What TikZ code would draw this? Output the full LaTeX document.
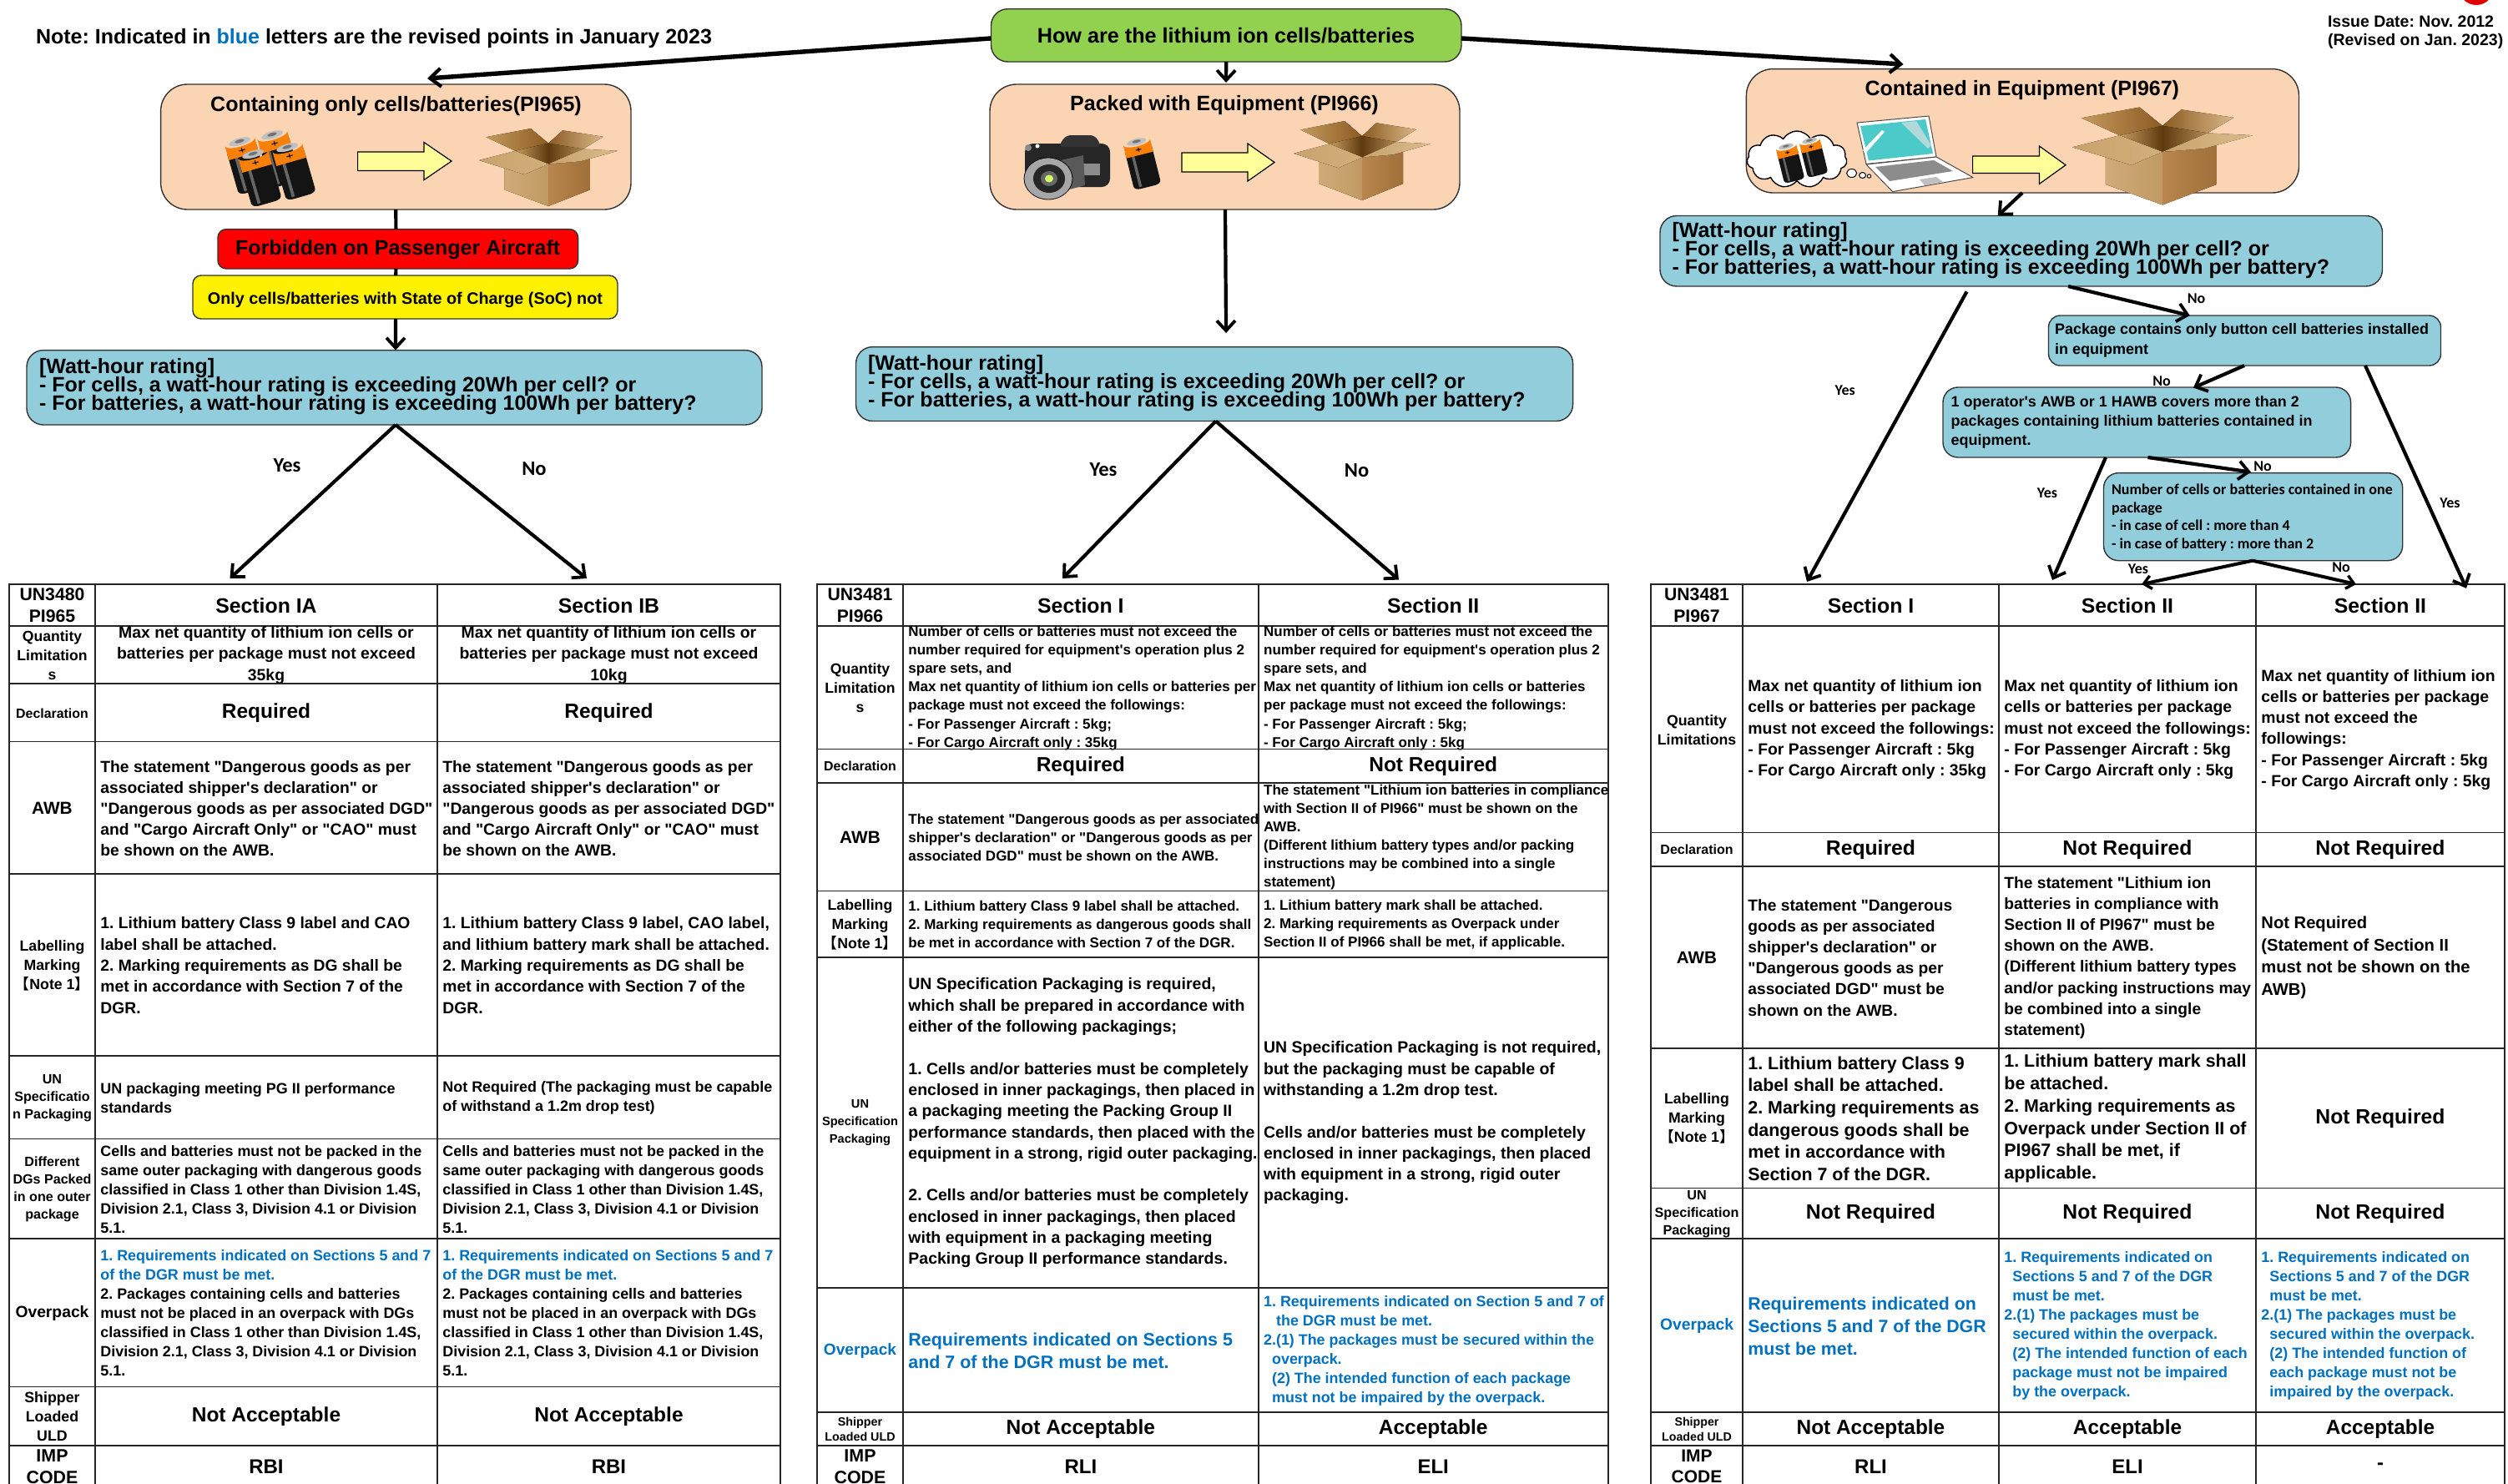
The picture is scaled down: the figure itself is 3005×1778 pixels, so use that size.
\documentclass[tikz,border=0pt]{standalone}
\usepackage{fontspec}
\setmainfont{Liberation Sans}
\newfontfamily\lib{Liberation Sans}
\newfontfamily\calib{Carlito}
\newfontfamily\cjk{Noto Sans CJK JP}[BoldFont={Noto Sans CJK JP Bold}]
\usetikzlibrary{arrows.meta,shapes.symbols,shapes.geometric}
\definecolor{peach}{HTML}{FBD4B4}
\definecolor{skyb}{HTML}{92CDDC}
\definecolor{leaf}{HTML}{92D050}
\definecolor{rev}{HTML}{0070C0}
\definecolor{ybox}{HTML}{FFFF99}
\definecolor{cbA}{HTML}{C49A5E}
\definecolor{cbB}{HTML}{8B5A22}
\definecolor{cbC}{HTML}{D8B888}
\definecolor{cbD}{HTML}{5E3A0E}
\definecolor{cbE}{HTML}{B08A55}
\definecolor{cbF}{HTML}{D0AB78}
\definecolor{cbG}{HTML}{C09A62}
\definecolor{cbH}{HTML}{B8864E}
\definecolor{cbI}{HTML}{A0703A}
\definecolor{cbJ}{HTML}{C8A26C}
\definecolor{cbK}{HTML}{D2B07B}
\definecolor{cbL}{HTML}{D8BC8C}
\frenchspacing
\newcommand\fz[2]{\lib\fontsize{\fpeval{#1/2}pt}{\fpeval{#2/2}pt}\selectfont\bfseries\lineskiplimit=-100pt\relax}
\newcommand\fc[2]{\calib\fontsize{\fpeval{#1/2}pt}{\fpeval{#2/2}pt}\selectfont\bfseries\lineskiplimit=-100pt\relax}
\newcommand\LB{{\cjk\bfseries 【}}
\newcommand\RB{{\cjk\bfseries 】}}
\tikzset{
  fs/.style 2 args={font=\fz{#1}{#2}},
  cs/.style 2 args={font=\fc{#1}{#2}},
  tnode/.style={inner sep=0pt,outer sep=0pt},
  ltext/.style={tnode,align=left,anchor=west},
  ctext/.style={tnode,align=center,anchor=center},
  cellbox/.style={draw=black!85,line width=0.9pt,inner sep=0pt,outer sep=0pt,anchor=north west},
  rbox/.style={draw=black!80,line width=0.7pt,rounded corners=#1,inner sep=0pt,outer sep=0pt,anchor=north west},
  arrM/.style={line width=2.1pt,-{Straight Barb[length=6pt,width=11pt,line width=1.9pt]}},
  arrT/.style={line width=2.7pt,-{Straight Barb[length=6.5pt,width=11pt,line width=2.1pt]}},
  arrS/.style={line width=2pt,-{Straight Barb[length=4.5pt,width=8pt,line width=1.7pt]}},
  plain/.style={line width=2.1pt},
  revt/.style={text=rev},
}
\newcounter{cc}
\newcommand\boxat[7]{% name, radius, fill, x0,x1,y0,y1
  \node[rbox=#2,fill=#3,minimum width={(#5-#4)*0.5pt},minimum height={(#7-#6)*0.5pt}] (#1) at (#4,#6) {};}
% cells: [opts for box]{x0}{x1}{y0}{y1}{text opts}{text}
\newcommand\cellL[7][]{\stepcounter{cc}%
  \node[cellbox,minimum width={(#3-#2)*0.5pt},minimum height={(#5-#4)*0.5pt},#1] (c\arabic{cc}) at (#2,#4) {};
  \node[ltext,#6] (c\arabic{cc}t) at ([xshift=3.2pt,yshift=-.3pt]c\arabic{cc}.west) {#7};}
\newcommand\cellC[7][]{\stepcounter{cc}%
  \node[cellbox,minimum width={(#3-#2)*0.5pt},minimum height={(#5-#4)*0.5pt},#1] (c\arabic{cc}) at (#2,#4) {};
  \node[ctext,#6] (c\arabic{cc}t) at ([yshift=-.3pt]c\arabic{cc}.center) {#7};}
% cardboard box: x0 y0 w h
\newcommand\cardbox[4]{\begin{scope}[shift={(#1,#2)},xscale=#3,yscale=#4,line join=round]
  \fill[left color=cbA,right color=cbB] (.05,.11)--(.373,0)--(.5,.19)--(.5,.457)--(.262,.288)--cycle;
  \fill[left color=cbB,right color=cbC] (.5,.19)--(.604,.024)--(.896,.106)--(.75,.264)--(.5,.457)--cycle;
  \fill[left color=cbA,right color=cbD] (.262,.288)--(.5,.19)--(.5,.457)--cycle;
  \fill[left color=cbD,right color=cbE] (.5,.19)--(.75,.264)--(.5,.457)--cycle;
  \fill[left color=cbF,right color=cbG] (.185,.5)--(.5,.457)--(.5,1)--(.185,.79)--cycle;
  \fill[left color=cbH,right color=cbI] (.5,.457)--(.8,.37)--(.8,.79)--(.5,1)--cycle;
  \fill[left color=cbJ,right color=cbK] (0,.409)--(.262,.288)--(.5,.457)--(.327,.591)--cycle;
  \fill[left color=cbJ,right color=cbL] (.5,.457)--(.75,.264)--(1,.288)--(.73,.423)--cycle;
\end{scope}}
% battery: cx cy rot width length
\newcommand\batt[5]{\begin{scope}[shift={(#1,#2)},rotate=#3,xscale=#4,yscale=#5]
  \fill[black!92,rounded corners=1.2pt] (-.5,-.32)--(-.5,.46)--(-.35,.5)--(.35,.5)--(.5,.46)--(.5,-.32)--cycle;
  \fill[black!60] (-.3,-.3) rectangle (-.2,.46);
  \fill[orange!90!brown] (-.5,-.16)--(-.5,-.42) arc[x radius=.5,y radius=.08,start angle=180,end angle=0]--(.5,-.16)--cycle;
  \fill[black!25] (0,-.43) ellipse[x radius=.36,y radius=.065];
  \fill[black!55] (0,-.44) ellipse[x radius=.16,y radius=.03];
  \draw[black,line width=.5pt] (-.1,-.27)--(.1,-.27) (0,-.31)--(0,-.23);
\end{scope}}
\newcommand\yarrow[7]{\draw[fill=ybox,draw=black,line width=.6pt] (#1,#4)--(#2,#4)--(#2,#6)--(#3,{(#6+#7)/2})--(#2,#7)--(#2,#5)--(#1,#5)--cycle;}
\begin{document}
\begin{tikzpicture}[x=0.5pt,y=-0.5pt]
\path[use as bounding box,clip] (0,0) rectangle (3005,1778);
\fill[white] (0,0) rectangle (3005,1778);
% seal
\fill[red!88!black] (2967,-15) circle[radius=21];
% note and issue
\node[ltext,fs={25}{30}] (note) at (43,46) {Note: Indicated in \textcolor{rev}{blue} letters are the revised points in January 2023};
\node[ltext,fs={19.5}{22}] (issue) at (2789,39) {Issue Date: Nov. 2012\\(Revised on Jan. 2023)};
% green
\boxat{g}{10pt}{leaf}{1187.5}{1751}{10.7}{74}
\node[ctext,fs={25.2}{30}] (gt) at (1469,43) {How are the lithium ion cells/batteries};
% peach boxes
\boxat{b1}{16pt}{peach}{192.6}{756}{101}{251}
\node[ctext,fs={25}{30}] (b1t) at (474.5,127) {Containing only cells/batteries(PI965)};
\boxat{b2}{16pt}{peach}{1186}{1749}{101}{251}
\node[ctext,fs={25}{30}] (b2t) at (1467,126.5) {Packed with Equipment (PI966)};
\boxat{b3}{16pt}{peach}{2092.4}{2754.5}{82.6}{231}
\node[ctext,fs={25}{30}] (b3t) at (2422.8,108.5) {Contained in Equipment (PI967)};
% pictures in box 1
\batt{295}{197}{16}{37}{66}
\batt{334}{189}{16}{37}{66}
\batt{352}{204}{16}{37}{66}
\batt{311}{212}{16}{37}{66}
\yarrow{428.6}{508}{541}{182}{204.5}{170.5}{215.6}
\cardbox{574}{154}{166}{93}
% pictures in box 2
\begin{scope}
 \fill[black!85,rounded corners=5pt] (1228,172) rectangle (1330,224);
 \fill[black!80,rounded corners=3pt] (1277,162)--(1312,162)--(1320,176)--(1268,176)--cycle;
 \fill[black!45] (1232,177) circle[radius=4];
 \fill[white] (1243,175) circle[radius=2.5];
 \fill[black!45] (1288,196) rectangle (1318,210);
 \fill[black!65] (1262,194)--(1298,186)--(1300,222)--(1270,230)--cycle;
 \fill[black!35,draw=black,line width=.4pt] (1256,214) ellipse[x radius=29,y radius=25];
 \fill[black!85] (1257,214) ellipse[x radius=19,y radius=17];
 \fill[black!60] (1257,214) ellipse[x radius=10,y radius=9];
 \fill[green!30!yellow!60!white] (1257,214) ellipse[x radius=5,y radius=4.5];
\end{scope}
\batt{1368}{195}{14}{33}{60}
\yarrow{1416}{1495}{1527}{183}{206}{172}{217}
\cardbox{1550}{145}{164}{95}
% pictures in box 3
\node[cloud,draw=black,fill=white,line width=.7pt,cloud puffs=11,cloud puff arc=120,aspect=1.7,minimum width=60pt,minimum height=34pt,inner sep=0pt] (cld) at (2153,191) {};
\batt{2144.7}{194.7}{14}{25}{46}
\batt{2172.8}{187.8}{14}{25}{46}
\draw[fill=white,line width=.5pt] (2218.6,207.5) ellipse[x radius=6,y radius=5] (2231.6,210) ellipse[x radius=4,y radius=3.5] (2239.5,211) circle[radius=2.2];
\begin{scope}[line join=round]
 \draw[fill=white,draw=black!70,line width=.5pt] (2225,147)--(2311,139)--(2320,188)--(2236,196.5)--cycle;
 \fill[teal!60!cyan!70!white] (2229,151)--(2307,143)--(2316,184)--(2239,192.5)--cycle;
 \fill[white!70!teal] (2278,147)--(2296,145)--(2314,174)--(2310,178)--cycle;
 \fill[white] (2232,180)--(2255,156)--(2258,158)--(2235,184)--cycle;
 \draw[fill=white,draw=black!70,line width=.5pt] (2236,197)--(2320,188)--(2364,212.6)--(2267.6,229.6)--cycle;
 \fill[black!45] (2247,200)--(2317,192)--(2340,205)--(2264,217)--cycle;
 \fill[black!25] (2300,215)--(2320,212)--(2328,218)--(2306,222)--cycle;
\end{scope}
\yarrow{2363.6}{2443.4}{2475}{187}{207.5}{175}{220.4}
\cardbox{2483}{128.5}{216}{117}
% status boxes
\boxat{f}{5pt}{red}{261}{692.6}{274.6}{322}
\node[ctext,fs={25}{30}] (ft) at (476.7,299.5) {Forbidden on Passenger Aircraft};
\boxat{y}{5pt}{yellow}{231}{740}{330}{382}
\node[ctext,fs={19.8}{24}] (yt) at (485.5,359) {Only cells/batteries with State of Charge (SoC) not};
% blue question boxes
\boxat{w1}{10pt}{skyb}{32}{913}{419.6}{509}
\node[ltext,fs={25}{22}] (w1t) at (47,463.5) {[Watt-hour rating]\\- For cells, a watt-hour rating is exceeding 20Wh per cell? or\\- For batteries, a watt-hour rating is exceeding 100Wh per battery?};
\boxat{w2}{10pt}{skyb}{1025.5}{1884.6}{415.6}{504.5}
\node[ltext,fs={25}{22}] (w2t) at (1040,459.5) {[Watt-hour rating]\\- For cells, a watt-hour rating is exceeding 20Wh per cell? or\\- For batteries, a watt-hour rating is exceeding 100Wh per battery?};
\boxat{w3}{10pt}{skyb}{1989}{2854.5}{258.5}{343}
\node[ltext,fs={25}{22}] (w3t) at (2003.5,300) {[Watt-hour rating]\\- For cells, a watt-hour rating is exceeding 20Wh per cell? or\\- For batteries, a watt-hour rating is exceeding 100Wh per battery?};
\boxat{pk}{7pt}{skyb}{2454.5}{2924.5}{378}{438}
\node[ltext,fs={18}{24}] (pkt) at (2462,407.7) {Package contains only button cell batteries installed\\in equipment};
\boxat{op}{9pt}{skyb}{2328}{2816.6}{464}{548}
\node[ltext,fs={18}{23}] (opt) at (2337.5,506) {1 operator's AWB or 1 HAWB covers more than 2\\packages containing lithium batteries contained in\\equipment.};
\boxat{nb}{9pt}{skyb}{2520.5}{2878.7}{566.6}{671.7}
\node[ltext,cs={18}{21.7}] (nbt) at (2530,620) {Number of cells or batteries contained in one\\package\\- in case of cell : more than 4\\- in case of battery : more than 2};
% TABLE 1
\def\xa{11}\def\xb{114}\def\xc{524}\def\xd{935}
\cellC{\xa}{\xb}{699.7}{749.7}{fs={21.2}{26}}{UN3480\\PI965}
\cellC[alias=s1a]{\xb}{\xc}{699.7}{749.7}{fs={24.8}{30}}{Section IA}
\cellC[alias=s1b]{\xc}{\xd}{699.7}{749.7}{fs={24.8}{30}}{Section IB}
\cellC{\xa}{\xb}{749.7}{819}{fs={17.6}{23}}{Quantity\\Limitation\\s}
\cellC{\xb}{\xc}{749.7}{819}{fs={19.4}{25.7}}{Max net quantity of lithium ion cells or\\batteries per package must not exceed\\35kg}
\cellC{\xc}{\xd}{749.7}{819}{fs={19.4}{25.7}}{Max net quantity of lithium ion cells or\\batteries per package must not exceed\\10kg}
\cellC{\xa}{\xb}{819}{888.5}{fs={15.9}{20}}{Declaration}
\cellC{\xb}{\xc}{819}{888.5}{fs={24.5}{30}}{Required}
\cellC{\xc}{\xd}{819}{888.5}{fs={24.5}{30}}{Required}
\cellC{\xa}{\xb}{888.5}{1047}{fs={20.8}{25}}{AWB}
\cellL{\xb}{\xc}{888.5}{1047}{fs={19.3}{25}}{The statement "Dangerous goods as per\\associated shipper's declaration" or\\"Dangerous goods as per associated DGD"\\and "Cargo Aircraft Only" or "CAO" must\\be shown on the AWB.}
\cellL{\xc}{\xd}{888.5}{1047}{fs={19.3}{25}}{The statement "Dangerous goods as per\\associated shipper's declaration" or\\"Dangerous goods as per associated DGD"\\and "Cargo Aircraft Only" or "CAO" must\\be shown on the AWB.}
\cellC{\xa}{\xb}{1047}{1265}{fs={17.7}{23}}{Labelling\\Marking\\\LB Note 1\RB}
\cellL{\xb}{\xc}{1047}{1265}{fs={19.3}{25.3}}{1. Lithium battery Class 9 label and CAO\\label shall be attached.\\2. Marking requirements as DG shall be\\met in accordance with Section 7 of the\\DGR.}
\cellL{\xc}{\xd}{1047}{1265}{fs={19.3}{25.3}}{1. Lithium battery Class 9 label, CAO label,\\and lithium battery mark shall be attached.\\2. Marking requirements as DG shall be\\met in accordance with Section 7 of the\\DGR.}
\cellC{\xa}{\xb}{1265}{1364.5}{fs={16.1}{21}}{UN\\Specificatio\\n Packaging}
\cellL{\xb}{\xc}{1265}{1364.5}{fs={17.95}{23}}{UN packaging meeting PG II performance\\standards}
\cellL{\xc}{\xd}{1265}{1364.5}{fs={17.95}{23}}{Not Required (The packaging must be capable\\of withstand a 1.2m drop test)}
\cellC{\xa}{\xb}{1364.5}{1484}{fs={16.1}{21}}{Different\\DGs Packed\\in one outer\\package}
\cellL{\xb}{\xc}{1364.5}{1484}{fs={17.9}{23}}{Cells and batteries must not be packed in the\\same outer packaging with dangerous goods\\classified in Class 1 other than Division 1.4S,\\Division 2.1, Class 3, Division 4.1 or Division\\5.1.}
\cellL{\xc}{\xd}{1364.5}{1484}{fs={17.9}{23}}{Cells and batteries must not be packed in the\\same outer packaging with dangerous goods\\classified in Class 1 other than Division 1.4S,\\Division 2.1, Class 3, Division 4.1 or Division\\5.1.}
\cellC{\xa}{\xb}{1484}{1661.5}{fs={19.3}{24}}{Overpack}
\cellL{\xb}{\xc}{1484}{1661.5}{fs={17.9}{23}}{\textcolor{rev}{1. Requirements indicated on Sections 5 and 7}\\\textcolor{rev}{of the DGR must be met.}\\2. Packages containing cells and batteries\\must not be placed in an overpack with DGs\\classified in Class 1 other than Division 1.4S,\\Division 2.1, Class 3, Division 4.1 or Division\\5.1.}
\cellL{\xc}{\xd}{1484}{1661.5}{fs={17.9}{23}}{\textcolor{rev}{1. Requirements indicated on Sections 5 and 7}\\\textcolor{rev}{of the DGR must be met.}\\2. Packages containing cells and batteries\\must not be placed in an overpack with DGs\\classified in Class 1 other than Division 1.4S,\\Division 2.1, Class 3, Division 4.1 or Division\\5.1.}
\cellC{\xa}{\xb}{1661.5}{1731.6}{fs={17.8}{23}}{Shipper\\Loaded\\ULD}
\cellC{\xb}{\xc}{1661.5}{1731.6}{fs={24.5}{30}}{Not Acceptable}
\cellC{\xc}{\xd}{1661.5}{1731.6}{fs={24.5}{30}}{Not Acceptable}
\cellC{\xa}{\xb}{1731.6}{1781}{fs={21.4}{25.7}}{IMP\\CODE}
\cellC{\xb}{\xc}{1731.6}{1781}{fs={24}{30}}{RBI}
\cellC{\xc}{\xd}{1731.6}{1781}{fs={24}{30}}{RBI}
% TABLE 2
\def\xa{979}\def\xb{1082}\def\xc{1507.7}\def\xd{1926.7}
\cellC{\xa}{\xb}{700}{750}{fs={21.2}{26}}{UN3481\\PI966}
\cellC[alias=s2a]{\xb}{\xc}{700}{750}{fs={24.8}{30}}{Section I}
\cellC[alias=s2b]{\xc}{\xd}{700}{750}{fs={24.8}{30}}{Section II}
\cellC{\xa}{\xb}{750}{897.5}{fs={17.6}{23}}{Quantity\\Limitation\\s}
\cellL{\xb}{\xc}{750}{897.5}{fs={17}{22.2}}{Number of cells or batteries must not exceed the\\number required for equipment's operation plus 2\\spare sets, and\\Max net quantity of lithium ion cells or batteries per\\package must not exceed the followings:\\- For Passenger Aircraft : 5kg;\\- For Cargo Aircraft only : 35kg}
\cellL{\xc}{\xd}{750}{897.5}{fs={17}{22.2}}{Number of cells or batteries must not exceed the\\number required for equipment's operation plus 2\\spare sets, and\\Max net quantity of lithium ion cells or batteries\\per package must not exceed the followings:\\- For Passenger Aircraft : 5kg;\\- For Cargo Aircraft only : 5kg}
\cellC{\xa}{\xb}{897.5}{937.7}{fs={15.9}{20}}{Declaration}
\cellC{\xb}{\xc}{897.5}{937.7}{fs={24.5}{30}}{Required}
\cellC{\xc}{\xd}{897.5}{937.7}{fs={24.5}{30}}{Not Required}
\cellC{\xa}{\xb}{937.7}{1067.5}{fs={20.8}{25}}{AWB}
\cellL{\xb}{\xc}{937.7}{1067.5}{fs={17}{22}}{The statement "Dangerous goods as per associated\\shipper's declaration" or "Dangerous goods as per\\associated DGD" must be shown on the AWB.}
\cellL{\xc}{\xd}{937.7}{1067.5}{fs={17}{22}}{The statement "Lithium ion batteries in compliance\\with Section II of PI966" must be shown on the\\AWB.\\(Different lithium battery types and/or packing\\instructions may be combined into a single\\statement)}
\cellC{\xa}{\xb}{1067.5}{1146.6}{fs={17.7}{23}}{Labelling\\Marking\\\LB Note 1\RB}
\cellL{\xb}{\xc}{1067.5}{1146.6}{fs={17}{22}}{1. Lithium battery Class 9 label shall be attached.\\2. Marking requirements as dangerous goods shall\\be met in accordance with Section 7 of the DGR.}
\cellL{\xc}{\xd}{1067.5}{1146.6}{fs={17}{22}}{1. Lithium battery mark shall be attached.\\2. Marking requirements as Overpack under\\Section II of PI966 shall be met, if applicable.}
\cellC{\xa}{\xb}{1146.6}{1542.9}{fs={14.6}{21}}{UN\\Specification\\Packaging}
\cellL{\xb}{\xc}{1146.6}{1542.9}{fs={19.5}{25.3}}{UN Specification Packaging is required,\\which shall be prepared in accordance with\\either of the following packagings;\\~\\1. Cells and/or batteries must be completely\\enclosed in inner packagings, then placed in\\a packaging meeting the Packing Group II\\performance standards, then placed with the\\equipment in a strong, rigid outer packaging.\\~\\2. Cells and/or batteries must be completely\\enclosed in inner packagings, then placed\\with equipment in a packaging meeting\\Packing Group II performance standards.}
\cellL{\xc}{\xd}{1146.6}{1542.9}{fs={19.5}{25.3}}{UN Specification Packaging is not required,\\but the packaging must be capable of\\withstanding a 1.2m drop test.\\~\\Cells and/or batteries must be completely\\enclosed in inner packagings, then placed\\with equipment in a strong, rigid outer\\packaging.}
\cellC{\xa}{\xb}{1542.9}{1692}{fs={19.1}{24},revt}{Overpack}
\cellL{\xb}{\xc}{1542.9}{1692}{fs={21.45}{27},revt}{Requirements indicated on Sections 5\\and 7 of the DGR must be met.}
\cellL{\xc}{\xd}{1542.9}{1692}{fs={17.9}{23},revt}{1. Requirements indicated on Section 5 and 7 of\\\hspace*{7.5pt}the DGR must be met.\\2.(1) The packages must be secured within the\\\hspace*{5pt}overpack.\\\hspace*{5pt}(2) The intended function of each package\\\hspace*{5pt}must not be impaired by the overpack.}
\cellC{\xa}{\xb}{1692}{1731.6}{fs={14.3}{18.5}}{Shipper\\Loaded ULD}
\cellC{\xb}{\xc}{1692}{1731.6}{fs={24.5}{30}}{Not Acceptable}
\cellC{\xc}{\xd}{1692}{1731.6}{fs={24.5}{30}}{Acceptable}
\cellC{\xa}{\xb}{1731.6}{1781}{fs={21.4}{25.7}}{IMP\\CODE}
\cellC{\xb}{\xc}{1731.6}{1781}{fs={24}{30}}{RLI}
\cellC{\xc}{\xd}{1731.6}{1781}{fs={24}{30}}{ELI}
% TABLE 3
\def\xa{1978}\def\xb{2088}\def\xc{2395}\def\xd{2703}\def\xe{3001}
\cellC{\xa}{\xb}{700}{750}{fs={21.2}{26}}{UN3481\\PI967}
\cellC[alias=s3a]{\xb}{\xc}{700}{750}{fs={24.8}{30}}{Section I}
\cellC[alias=s3b]{\xc}{\xd}{700}{750}{fs={24.8}{30}}{Section II}
\cellC[alias=s3c]{\xd}{\xe}{700}{750}{fs={24.8}{30}}{Section II}
\cellC{\xa}{\xb}{750}{997.4}{fs={17.7}{23}}{Quantity\\Limitations}
\cellL{\xb}{\xc}{750}{997.4}{fs={19.4}{25.3}}{Max net quantity of lithium ion\\cells or batteries per package\\must not exceed the followings:\\- For Passenger Aircraft : 5kg\\- For Cargo Aircraft only : 35kg}
\cellL{\xc}{\xd}{750}{997.4}{fs={19.4}{25.3}}{Max net quantity of lithium ion\\cells or batteries per package\\must not exceed the followings:\\- For Passenger Aircraft : 5kg\\- For Cargo Aircraft only : 5kg}
\cellL{\xd}{\xe}{750}{997.4}{fs={19.4}{25.3}}{Max net quantity of lithium ion\\cells or batteries per package\\must not exceed the\\followings:\\- For Passenger Aircraft : 5kg\\- For Cargo Aircraft only : 5kg}
\cellC{\xa}{\xb}{997.4}{1037.7}{fs={16}{20}}{Declaration}
\cellC{\xb}{\xc}{997.4}{1037.7}{fs={24.7}{30}}{Required}
\cellC{\xc}{\xd}{997.4}{1037.7}{fs={24.7}{30}}{Not Required}
\cellC{\xd}{\xe}{997.4}{1037.7}{fs={24.7}{30}}{Not Required}
\cellC{\xa}{\xb}{1037.7}{1255.6}{fs={20.6}{25}}{AWB}
\cellL{\xb}{\xc}{1037.7}{1255.6}{fs={19.2}{25.2}}{The statement "Dangerous\\goods as per associated\\shipper's declaration" or\\"Dangerous goods as per\\associated DGD" must be\\shown on the AWB.}
\cellL{\xc}{\xd}{1037.7}{1255.6}{fs={19.2}{25.2}}{The statement "Lithium ion\\batteries in compliance with\\Section II of PI967" must be\\shown on the AWB.\\(Different lithium battery types\\and/or packing instructions may\\be combined into a single\\statement)}
\cellL{\xd}{\xe}{1037.7}{1255.6}{fs={20.2}{26.7}}{Not Required\\(Statement of Section II\\must not be shown on the\\AWB)}
\cellC{\xa}{\xb}{1255.6}{1423.5}{fs={17.7}{23}}{Labelling\\Marking\\\LB Note 1\RB}
\cellL{\xb}{\xc}{1255.6}{1423.5}{fs={21.4}{26.7}}{1. Lithium battery Class 9\\label shall be attached.\\2. Marking requirements as\\dangerous goods shall be\\met in accordance with\\Section 7 of the DGR.}
\cellL{\xc}{\xd}{1255.6}{1423.5}{fs={21.4}{26.7}}{1. Lithium battery mark shall\\be attached.\\2. Marking requirements as\\Overpack under Section II of\\PI967 shall be met, if\\applicable.}
\cellC{\xd}{\xe}{1255.6}{1423.5}{fs={24.7}{30}}{Not Required}
\cellC{\xa}{\xb}{1423.5}{1484}{fs={16.2}{21}}{UN\\Specification\\Packaging}
\cellC{\xb}{\xc}{1423.5}{1484}{fs={24.7}{30}}{Not Required}
\cellC{\xc}{\xd}{1423.5}{1484}{fs={24.7}{30}}{Not Required}
\cellC{\xd}{\xe}{1423.5}{1484}{fs={24.7}{30}}{Not Required}
\cellC{\xa}{\xb}{1484}{1692}{fs={19.3}{24},revt}{Overpack}
\cellL{\xb}{\xc}{1484}{1692}{fs={21.3}{27},revt}{Requirements indicated on\\Sections 5 and 7 of the DGR\\must be met.}
\cellL{\xc}{\xd}{1484}{1692}{fs={17.9}{23},revt}{1. Requirements indicated on\\\hspace*{5pt}Sections 5 and 7 of the DGR\\\hspace*{5pt}must be met.\\2.(1) The packages must be\\\hspace*{5pt}secured within the overpack.\\\hspace*{5pt}(2) The intended function of each\\\hspace*{5pt}package must not be impaired\\\hspace*{5pt}by the overpack.}
\cellL{\xd}{\xe}{1484}{1692}{fs={17.9}{23},revt}{1. Requirements indicated on\\\hspace*{5pt}Sections 5 and 7 of the DGR\\\hspace*{5pt}must be met.\\2.(1) The packages must be\\\hspace*{5pt}secured within the overpack.\\\hspace*{5pt}(2) The intended function of\\\hspace*{5pt}each package must not be\\\hspace*{5pt}impaired by the overpack.}
\cellC{\xa}{\xb}{1692}{1731.6}{fs={14.2}{18.5}}{Shipper\\Loaded ULD}
\cellC{\xb}{\xc}{1692}{1731.6}{fs={24.4}{30}}{Not Acceptable}
\cellC{\xc}{\xd}{1692}{1731.6}{fs={24.4}{30}}{Acceptable}
\cellC{\xd}{\xe}{1692}{1731.6}{fs={24.4}{30}}{Acceptable}
\cellC{\xa}{\xb}{1731.6}{1781}{fs={21}{25.7}}{IMP\\CODE}
\cellC{\xb}{\xc}{1731.6}{1781}{fs={24}{30}}{RLI}
\cellC{\xc}{\xd}{1731.6}{1781}{fs={24}{30}}{ELI}
\cellC{\xd}{\xe}{1731.6}{1781}{fs={24}{30}}{-}
% connectors
\draw[arrT] ([shift={(0,3.6)}]g.west) -- ([shift={(37.7,-7)}]b1.north);
\draw[arrT] ([shift={(0,3.6)}]g.east) -- ([shift={(-142.85,-5.6)}]b3.north);
\draw[arrM] (g.south) -- ([shift={(1.5,-2)}]b2.north);
\draw[plain] (b1.south) -- ([xshift=-1.2pt]f.north);
\draw[plain] ([xshift=-1.2pt]f.south) -- ([xshift=-5.6pt]y.north);
\draw[arrM] ([xshift=-5.7pt]y.south) -- ([xshift=.75pt]w1.north);
\draw[arrM] ([xshift=.75pt]w1.south) -- ([shift={(-43.5,-6.7)}]s1a.north);
\draw[arrM] ([xshift=.75pt]w1.south) -- ([shift={(-26.5,-6.7)}]s1b.north);
\draw[arrM] ([xshift=.25pt]b2.south) -- ([shift={(14,-16.6)}]w2.north);
\draw[arrM] ([xshift=.8pt]w2.south) -- ([shift={(-21.85,-7)}]s2a.north);
\draw[arrM] ([xshift=.8pt]w2.south) -- ([shift={(-41.2,-5.4)}]s2b.north);
\draw[arrM] ([xshift=-.2pt]b3.south) -- ([xshift=-14pt]w3.north);
\draw[arrM] ([shift={(-65.25,6.4)}]w3.south) -- ([shift={(-76.5,-3)}]s3a.north);
\draw[arrM] ([shift={(56.25,0)}]w3.south) -- ([shift={(-65.7,0)}]pk.north);
\draw[arrM] ([shift={(-.5,0)}]pk.south) -- ([shift={(55.7,.6)}]op.north);
\draw[arrM] ([shift={(144.5,0)}]pk.south) -- ([shift={(103,4.8)}]s3c.north);
\draw[arrM] ([shift={(-49.3,0)}]op.south) -- ([shift={(-90,-5)}]s3b.north);
\draw[arrM] ([shift={(1.2,0)}]op.south) -- ([shift={(-2.6,-1)}]nb.north);
\draw[arrS] ([shift={(-.6,0)}]nb.south) -- ([shift={(17,0)}]s3b.north);
\draw[arrS] ([shift={(-.6,0)}]nb.south) -- ([shift={(-29,0)}]s3c.north);
% labels
\node[ctext,cs={24.5}{28}] (l1) at (344,558) {Yes};
\node[ctext,cs={24.5}{28}] (l2) at (640,561.6) {No};
\node[ctext,cs={24.5}{28}] (l3) at (1322,562.5) {Yes};
\node[ctext,cs={24.5}{28}] (l4) at (1625.6,563.4) {No};
\node[ctext,cs={18}{22}] (l5) at (2631.6,357.7) {No};
\node[ctext,cs={18}{22}] (l6) at (2210.7,467.4) {Yes};
\node[ctext,cs={18}{22}] (l7) at (2590,457) {No};
\node[ctext,cs={18}{22}] (l8) at (2935.5,603) {Yes};
\node[ctext,cs={18}{22}] (l9) at (2453,590.4) {Yes};
\node[ctext,cs={18}{22}] (l10) at (2711,559) {No};
\node[ctext,cs={18}{22}] (l11) at (2562,681.8) {Yes};
\node[ctext,cs={18}{22}] (l12) at (2805,679.5) {No};
\end{tikzpicture}
\end{document}
